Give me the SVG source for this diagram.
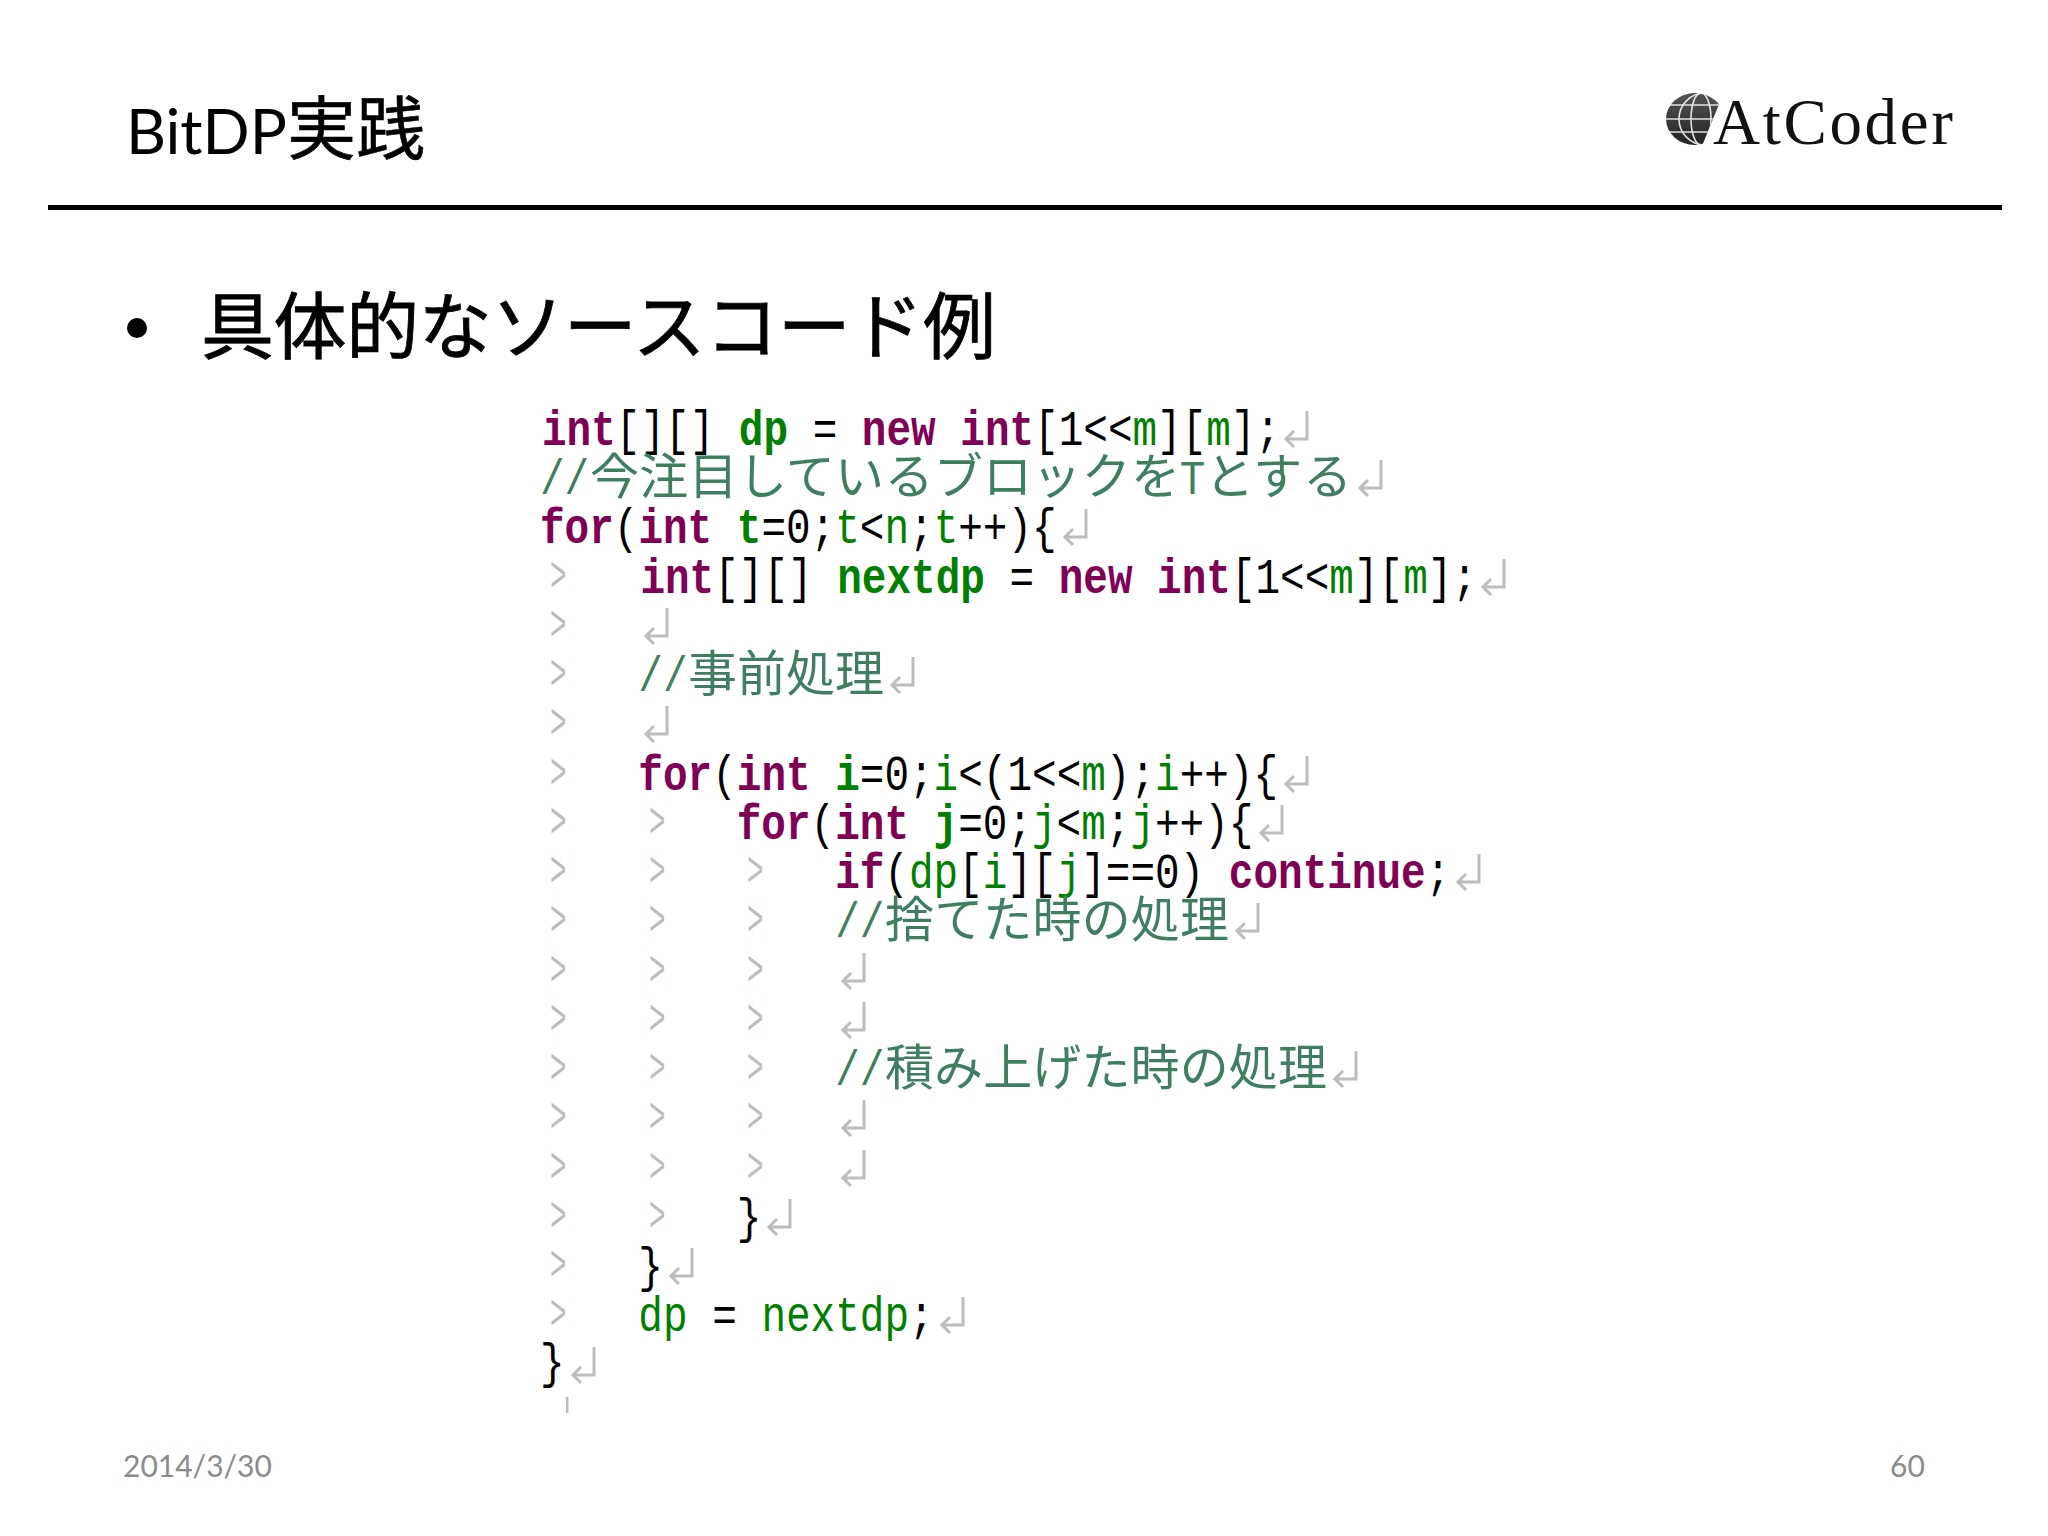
<svg xmlns="http://www.w3.org/2000/svg" width="2048" height="1536" viewBox="0 0 2048 1536">
<style>
text{white-space:pre}
.code{font-family:"Liberation Mono","DejaVu Sans Mono",monospace;font-size:50px;fill:#000}
.k{fill:#7f0055;font-weight:bold}
.d{fill:#007f00;font-weight:bold}
.v{fill:#007f00}
.c{fill:#3f7f5f}
.cj{font-family:"Noto Sans CJK JP",sans-serif;font-size:49px;fill:#3f7f5f}
.tab{font-family:"Liberation Mono",monospace;font-size:50px;fill:#bdbdbd}
.ret{fill:none;stroke:#bdbdbd;stroke-width:3}
</style>
<defs>
<text id="tb" class="tab" transform="scale(0.55,1)">&gt;</text>
<path id="rt" class="ret" d="M24 -32V-4H4M11 -12L3 -4L11 4"/>
<clipPath id="gc"><path d="M1724 92L1702 146L1640 146L1640 90Z"/></clipPath>
<linearGradient id="gg" x1="0" y1="0" x2="0" y2="1"><stop offset="0" stop-color="#555"/><stop offset="1" stop-color="#222"/></linearGradient>
</defs>
<rect width="2048" height="1536" fill="#fff"/>

<g id="title">
<text x="126" y="154" font-family="Lato,'Noto Sans',sans-serif" font-size="62" fill="#000">BitDP<tspan font-family="'Noto Sans CJK JP',sans-serif" font-size="69" stroke="#000" stroke-width=".6">実践</tspan></text>
</g>
<rect id="rule" x="48" y="205" width="1954" height="5" fill="#000"/>

<g id="logo">
<g clip-path="url(#gc)">
<ellipse cx="1695" cy="119" rx="29" ry="26" fill="url(#gg)"/>
<g fill="none" stroke="#fff" stroke-width="1.6" opacity=".85">
<path d="M1660 105H1730M1660 119H1730M1660 132H1730"/>
<ellipse cx="1701" cy="119" rx="10" ry="26"/>
<ellipse cx="1705" cy="119" rx="26" ry="26"/>
</g>
</g>
<text x="1713" y="144" font-family="'Liberation Serif',serif" font-size="65" fill="#111" textLength="240" lengthAdjust="spacing">AtCoder</text>
</g>

<g id="bullet">
<circle cx="137" cy="328" r="10" fill="#000"/>
<text x="201" y="353" font-family="'Noto Sans CJK JP',sans-serif" font-size="73" fill="#000" stroke="#000" stroke-width=".8" textLength="795" lengthAdjust="spacing">具体的なソースコード例</text>
</g>

<g id="code">
<g transform="scale(0.82,1)">
<text class="code" x="661" y="445"><tspan class="k">int</tspan>[][] <tspan class="d">dp</tspan> = <tspan class="k">new</tspan> <tspan class="k">int</tspan>[1&lt;&lt;<tspan class="v">m</tspan>][<tspan class="v">m</tspan>];</text>
<text class="code c" x="658.5" y="494">//</text>
<text class="code" x="658.5" y="543"><tspan class="k">for</tspan>(<tspan class="k">int</tspan> <tspan class="d">t</tspan>=0;<tspan class="v">t</tspan>&lt;<tspan class="v">n</tspan>;<tspan class="v">t</tspan>++){</text>
<text class="code" x="781" y="593"><tspan class="k">int</tspan>[][] <tspan class="d">nextdp</tspan> = <tspan class="k">new</tspan> <tspan class="k">int</tspan>[1&lt;&lt;<tspan class="v">m</tspan>][<tspan class="v">m</tspan>];</text>
<text class="code c" x="778.5" y="691">//</text>
<text class="code" x="778.5" y="790"><tspan class="k">for</tspan>(<tspan class="k">int</tspan> <tspan class="d">i</tspan>=0;<tspan class="v">i</tspan>&lt;(1&lt;&lt;<tspan class="v">m</tspan>);<tspan class="v">i</tspan>++){</text>
<text class="code" x="898.5" y="839"><tspan class="k">for</tspan>(<tspan class="k">int</tspan> <tspan class="d">j</tspan>=0;<tspan class="v">j</tspan>&lt;<tspan class="v">m</tspan>;<tspan class="v">j</tspan>++){</text>
<text class="code" x="1018.5" y="888"><tspan class="k">if</tspan>(<tspan class="v">dp</tspan>[<tspan class="v">i</tspan>][<tspan class="v">j</tspan>]==0) <tspan class="k">continue</tspan>;</text>
<text class="code c" x="1018.5" y="937">//</text>
<text class="code c" x="1018.5" y="1085">//</text>
<text class="code" x="898.5" y="1233">}</text>
<text class="code" x="778.5" y="1282">}</text>
<text class="code" x="778.5" y="1331"><tspan class="v">dp</tspan> = <tspan class="v">nextdp</tspan>;</text>
<text class="code" x="658.5" y="1378">}</text>
</g>
<text class="cj" x="590" y="494" textLength="590" lengthAdjust="spacing">今注目しているブロックを</text>
<text class="cj" x="1180" y="494" style="font-size:44px" textLength="25" lengthAdjust="spacingAndGlyphs">T</text>
<text class="cj" x="1205" y="494" textLength="147" lengthAdjust="spacing">とする</text>
<text class="cj" x="688" y="691" textLength="196" lengthAdjust="spacing">事前処理</text>
<text class="cj" x="885" y="937" textLength="344" lengthAdjust="spacing">捨てた時の処理</text>
<text class="cj" x="885" y="1085" textLength="442" lengthAdjust="spacing">積み上げた時の処理</text>
</g>

<g id="tabs">
<use href="#tb" x="550" y="591"/>
<use href="#tb" x="550" y="640"/>
<use href="#tb" x="550" y="689"/>
<use href="#tb" x="550" y="738"/>
<use href="#tb" x="550" y="788"/>
<use href="#tb" x="550" y="837"/><use href="#tb" x="649" y="837"/>
<use href="#tb" x="550" y="886"/><use href="#tb" x="649" y="886"/><use href="#tb" x="747" y="886"/>
<use href="#tb" x="550" y="935"/><use href="#tb" x="649" y="935"/><use href="#tb" x="747" y="935"/>
<use href="#tb" x="550" y="985"/><use href="#tb" x="649" y="985"/><use href="#tb" x="747" y="985"/>
<use href="#tb" x="550" y="1034"/><use href="#tb" x="649" y="1034"/><use href="#tb" x="747" y="1034"/>
<use href="#tb" x="550" y="1083"/><use href="#tb" x="649" y="1083"/><use href="#tb" x="747" y="1083"/>
<use href="#tb" x="550" y="1132"/><use href="#tb" x="649" y="1132"/><use href="#tb" x="747" y="1132"/>
<use href="#tb" x="550" y="1182"/><use href="#tb" x="649" y="1182"/><use href="#tb" x="747" y="1182"/>
<use href="#tb" x="550" y="1231"/><use href="#tb" x="649" y="1231"/>
<use href="#tb" x="550" y="1280"/>
<use href="#tb" x="550" y="1329"/>
</g>

<g id="returns">
<use href="#rt" x="1283" y="443"/>
<use href="#rt" x="1357" y="492"/>
<use href="#rt" x="1062" y="541"/>
<use href="#rt" x="1480" y="591"/>
<use href="#rt" x="643" y="640"/>
<use href="#rt" x="889" y="689"/>
<use href="#rt" x="643" y="738"/>
<use href="#rt" x="1283" y="788"/>
<use href="#rt" x="1258" y="837"/>
<use href="#rt" x="1455" y="886"/>
<use href="#rt" x="1234" y="935"/>
<use href="#rt" x="840" y="985"/>
<use href="#rt" x="840" y="1034"/>
<use href="#rt" x="1332" y="1083"/>
<use href="#rt" x="840" y="1132"/>
<use href="#rt" x="840" y="1182"/>
<use href="#rt" x="766" y="1231"/>
<use href="#rt" x="668" y="1280"/>
<use href="#rt" x="939" y="1329"/>
<use href="#rt" x="570" y="1379"/>
</g>
<rect id="cursor" x="566" y="1397" width="2.5" height="16" fill="#bdbdbd"/>

<g id="footer" font-family="Lato,'Noto Sans',sans-serif" font-size="30" fill="#8b8b8b">
<text x="123" y="1477">2014/3/30</text>
<text x="1890" y="1477">60</text>
</g>
</svg>
